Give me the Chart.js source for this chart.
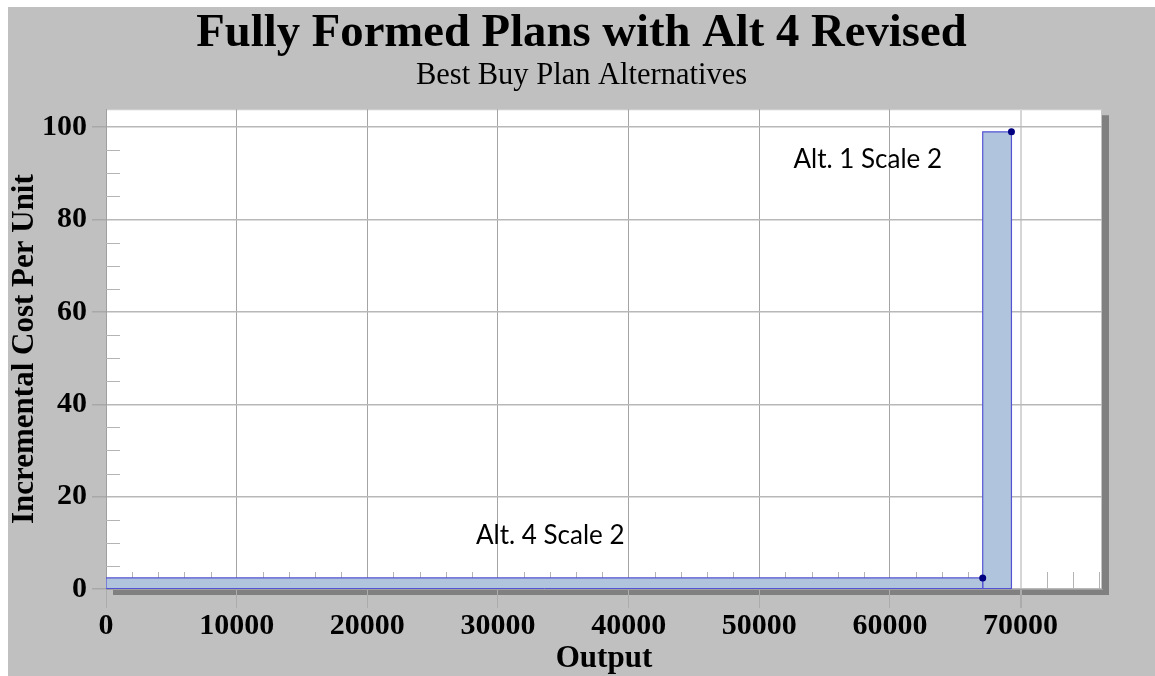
<!DOCTYPE html>
<html>
<head>
<meta charset="utf-8">
<script src="https://cdn.jsdelivr.net/npm/chart.js@4/dist/chart.umd.min.js"></script>
<style>
  html, body { margin: 0; padding: 0; background: #ffffff; }
  #wrap { width: 1155px; height: 676px; }
</style>
</head>
<body>
<div id="wrap"><canvas id="c" width="1155" height="676"></canvas></div>
<script>
// ---- data ----
const alternatives = ['Alt. 4 Scale 2', 'Alt. 1 Scale 2'];
const outputStart = [0, 67100];
const outputEnd = [67100, 69300];
const costPerUnit = [2.4, 99.0];
const xTickValues = [0, 10000, 20000, 30000, 40000, 50000, 60000, 70000];
const yTickValues = [0, 20, 40, 60, 80, 100];
const xMinorStep = 2000;
const yMinorStep = 5;
const xMax = 76230;
const yMax = 103.9;

// label anchor points (data coordinates)
const labelAnchors = [
  { text: alternatives[0], x: 34000, y: 11.5 },
  { text: alternatives[1], x: 58300, y: 93 }
];

const datasets = alternatives.map((name, i) => ({
  label: name,
  data: [
    { x: outputStart[i], y: 0 },
    { x: outputStart[i], y: costPerUnit[i] },
    { x: outputEnd[i], y: costPerUnit[i] },
    { x: outputEnd[i], y: 0 }
  ],
  borderColor: '#5252d2',
  borderWidth: 1.2,
  backgroundColor: '#b0c4de',
  fill: 'origin',
  tension: 0,
  pointRadius: ctx => (ctx.dataIndex === 2 ? 3.5 : 0),
  pointBackgroundColor: '#000080',
  pointBorderColor: '#000080',
  pointBorderWidth: 0
}));

const frame = {
  id: 'frame',
  beforeDraw(chart) {
    const { ctx, chartArea: a, width, height } = chart;
    ctx.save();
    ctx.fillStyle = '#ffffff';
    ctx.fillRect(0, 0, width, height);
    ctx.fillStyle = '#c0c0c0';
    ctx.fillRect(8, 7, width - 8, height - 7);
    ctx.fillStyle = '#808080';
    ctx.fillRect(a.left + 7, a.top + 6, a.right - a.left, a.bottom - a.top);
    ctx.fillStyle = '#ffffff';
    ctx.fillRect(a.left, a.top, a.right - a.left, a.bottom - a.top);
    ctx.strokeStyle = '#c4c4c4';
    ctx.lineWidth = 1;
    ctx.strokeRect(a.left + 0.5, a.top + 0.5, a.right - a.left - 1, a.bottom - a.top - 1);
    ctx.restore();
  },
  beforeDatasetsDraw(chart) {
    const { ctx, chartArea: a, scales: { x, y } } = chart;
    ctx.save();
    ctx.strokeStyle = '#b4b4b4';
    ctx.lineWidth = 1;
    ctx.beginPath();
    for (let v = xMinorStep; v < xMax; v += xMinorStep) {
      if (v % 10000 === 0) continue;
      const px = Math.round(x.getPixelForValue(v)) + 0.5;
      if (px >= a.right - 2) continue;
      ctx.moveTo(px, a.bottom);
      ctx.lineTo(px, a.bottom - 17);
    }
    for (let v = yMinorStep; v < yMax; v += yMinorStep) {
      if (v % 20 === 0) continue;
      const py = Math.round(y.getPixelForValue(v)) + 0.5;
      ctx.moveTo(a.left, py);
      ctx.lineTo(a.left + 14, py);
    }
    ctx.stroke();
    ctx.restore();
  },
  afterDatasetsDraw(chart) {
    const { ctx, scales: { x, y } } = chart;
    ctx.save();
    // bottom edge of the step rectangles
    ctx.strokeStyle = '#5252d2';
    ctx.lineWidth = 1;
    ctx.beginPath();
    outputStart.forEach((s, i) => {
      const py = Math.round(y.getPixelForValue(0)) - 0.5;
      ctx.moveTo(x.getPixelForValue(s), py);
      ctx.lineTo(x.getPixelForValue(outputEnd[i]), py);
    });
    ctx.stroke();
    ctx.fillStyle = '#000000';
    ctx.font = '26px Lato';
    ctx.textAlign = 'center';
    ctx.textBaseline = 'middle';
    labelAnchors.forEach(l => {
      ctx.fillText(l.text, x.getPixelForValue(l.x), y.getPixelForValue(l.y));
    });
    ctx.restore();
  }
};

new Chart(document.getElementById('c'), {
  type: 'line',
  data: { datasets },
  plugins: [frame],
  options: {
    responsive: false,
    animation: false,
    layout: { padding: { left: 8, right: 0, top: 0, bottom: 0 } },
    plugins: {
      legend: { display: false },
      tooltip: { enabled: false },
      title: {
        display: true,
        text: 'Fully Formed Plans with Alt 4 Revised',
        color: '#000000',
        font: { family: 'Liberation Serif', size: 46.7, weight: 'bold', lineHeight: 1.1 },
        padding: { top: 8, bottom: 0 }
      },
      subtitle: {
        display: true,
        text: 'Best Buy Plan Alternatives',
        color: '#000000',
        font: { family: 'Liberation Serif', size: 30.5, weight: 'normal', lineHeight: 1.1 },
        padding: { top: 0, bottom: 16.3 }
      }
    },
    scales: {
      x: {
        type: 'linear',
        min: 0,
        max: xMax,
        afterBuildTicks: s => { s.ticks = xTickValues.map(v => ({ value: v })); },
        afterFit: s => { s.height = 87; },
        grid: {
          color: c => (c.tick && c.tick.value === 70000 ? '#d6d6d6' : '#a4a4a4'),
          lineWidth: c => (c.tick && c.tick.value === 70000 ? 2 : 1),
          tickColor: '#acacac',
          tickLength: 19
        },
        border: { color: '#a0a0a0' },
        ticks: {
          color: '#000000',
          font: { family: 'Liberation Serif', size: 30, weight: 'bold', lineHeight: 1.1 },
          padding: 2,
          maxRotation: 0,
          callback: v => String(v)
        },
        title: {
          display: true,
          text: 'Output',
          color: '#000000',
          font: { family: 'Liberation Serif', size: 31, weight: 'bold', lineHeight: 1.1 },
          padding: { top: 0, bottom: 0 }
        }
      },
      y: {
        type: 'linear',
        min: 0,
        max: yMax,
        afterBuildTicks: s => { s.ticks = yTickValues.map(v => ({ value: v })); },
        afterFit: s => { s.width = 98; },
        grid: { color: '#b8b8b8', lineWidth: 1.5, tickColor: '#a8a8a8', tickLength: 14 },
        border: { color: '#a0a0a0' },
        ticks: {
          color: '#000000',
          font: { family: 'Liberation Serif', size: 30, weight: 'bold' },
          padding: 5,
          callback: v => String(v)
        },
        title: {
          display: true,
          text: 'Incremental Cost Per Unit',
          color: '#000000',
          font: { family: 'Liberation Serif', size: 31, weight: 'bold', lineHeight: 1.1 },
          padding: { top: 0, bottom: 0 }
        }
      },
      yRight: {
        type: 'linear',
        position: 'right',
        display: true,
        afterFit: s => { s.width = 53; },
        grid: { display: false, drawTicks: false },
        border: { display: false },
        ticks: { display: false },
        title: { display: false }
      }
    }
  }
});
</script>
</body>
</html>
